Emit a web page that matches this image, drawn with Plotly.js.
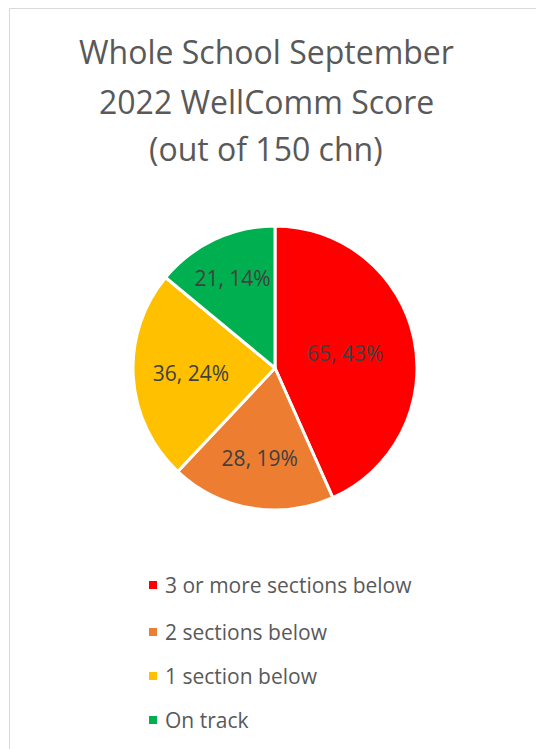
<!DOCTYPE html>
<html>
<head>
<meta charset="utf-8">
<script src="https://cdn.plot.ly/plotly-3.0.1.min.js"></script>
<style>html,body{margin:0;padding:0;background:#fff;}#chart{width:536px;height:749px;}</style>
</head>
<body>
<div id="chart"></div>
<script>
const categories = ["3 or more sections below", "2 sections below", "1 section below", "On track"];
const counts = [65, 28, 36, 21];
const colors = ["#FF0000", "#ED7D31", "#FFC000", "#00B050"];
const titleLines = ["Whole School September", "2022 WellComm Score", "(out of 150 chn)"];

const W = 536, H = 749;
const cx = 275, cy = 368, R = 142;

const trace = {
  type: "pie",
  labels: categories,
  values: counts,
  sort: false,
  direction: "clockwise",
  rotation: 0,
  marker: {colors: colors, line: {color: "#ffffff", width: 3}},
  texttemplate: "%{value}, %{percent:.0%}",
  textposition: "inside",
  insidetextorientation: "horizontal",
  textfont: {family: "Open Sans, sans-serif", size: 21, color: "#404040"},
  hoverinfo: "label+value+percent",
  showlegend: false,
  domain: {x: [(cx - R) / W, (cx + R) / W], y: [(H - cy - R) / H, (H - cy + R) / H]}
};

const titleY = [52, 101, 148];
const legendY = [585, 632, 676, 720];
const annotations = [];
const shapes = [{
  type: "rect", xref: "paper", yref: "paper",
  x0: 9.5 / W, x1: 1.2, y0: -0.2, y1: 1 - 8.5 / H,
  line: {color: "#d9d9d9", width: 1}, fillcolor: "rgba(0,0,0,0)", layer: "below"
}];
titleLines.forEach((t, i) => {
  annotations.push({
    xref: "paper", yref: "paper", x: 266 / W, y: 1 - titleY[i] / H,
    xanchor: "center", yanchor: "middle", text: t, showarrow: false,
    font: {family: "Open Sans, sans-serif", size: 32, color: "#595959"}
  });
});
categories.forEach((c, i) => {
  annotations.push({
    xref: "paper", yref: "paper", x: 163 / W, y: 1 - legendY[i] / H,
    xanchor: "left", yanchor: "middle", text: c, showarrow: false,
    font: {family: "Open Sans, sans-serif", size: 21, color: "#595959"}
  });
  shapes.push({
    type: "rect", xref: "paper", yref: "paper",
    x0: 149 / W, x1: 157 / W, y0: 1 - (legendY[i] + 4) / H, y1: 1 - (legendY[i] - 4) / H,
    fillcolor: colors[i], line: {width: 0}
  });
});

const layout = {
  width: W, height: H,
  margin: {l: 0, r: 0, t: 0, b: 0},
  paper_bgcolor: "#ffffff",
  annotations: annotations,
  shapes: shapes
};

Plotly.newPlot("chart", [trace], layout, {displayModeBar: false, staticPlot: true});
</script>
</body>
</html>
